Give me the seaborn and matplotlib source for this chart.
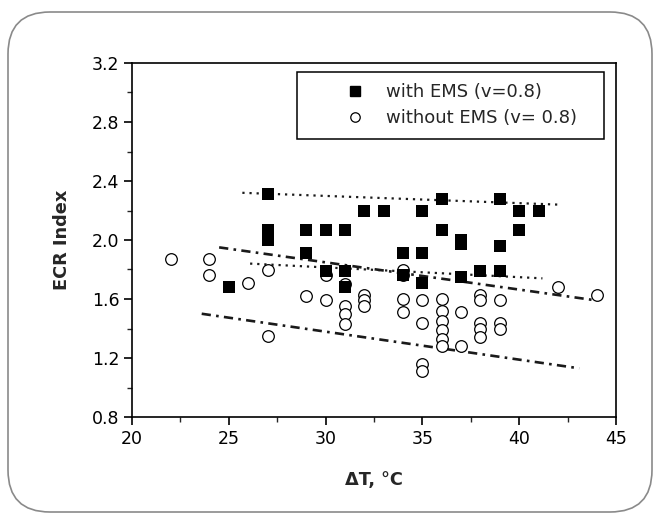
import numpy as np
import pandas as pd
import matplotlib
matplotlib.use("Agg")
import matplotlib.pyplot as plt
import seaborn as sns
from matplotlib.patches import FancyBboxPatch, Rectangle
from matplotlib.transforms import IdentityTransform
from matplotlib.ticker import MultipleLocator
from matplotlib.lines import Line2D

# ---- data ----
with_x = [25, 27, 27, 27, 29, 29, 30, 30, 31, 31, 31, 32, 33, 34, 34,
          35, 35, 35, 36, 36, 37, 37, 37, 38, 39, 39, 39, 40, 40, 41]
with_y = [1.68, 2.31, 2.07, 2.00, 2.07, 1.91, 2.07, 1.79, 2.07, 1.79, 1.68, 2.20, 2.20, 1.91, 1.76,
          2.20, 1.91, 1.71, 2.28, 2.07, 2.00, 1.97, 1.75, 1.79, 2.28, 1.96, 1.79, 2.20, 2.07, 2.20]

without_x = [22, 24, 24, 26, 27, 27, 29, 30, 30, 31, 31, 31, 31, 32, 32, 32,
             34, 34, 34, 34, 35, 35, 35, 35, 36, 36, 36, 36, 36, 36, 37, 37,
             38, 38, 38, 38, 38, 39, 39, 39, 42, 44]
without_y = [1.87, 1.87, 1.76, 1.71, 1.80, 1.35, 1.62, 1.76, 1.59, 1.70, 1.55, 1.50, 1.43, 1.63, 1.59, 1.55,
             1.80, 1.76, 1.60, 1.51, 1.59, 1.44, 1.16, 1.11, 1.60, 1.52, 1.45, 1.39, 1.33, 1.28, 1.51, 1.28,
             1.63, 1.59, 1.44, 1.40, 1.34, 1.59, 1.44, 1.40, 1.68, 1.63]

# trend / bound lines (end points)
with_upper_x = [25.7, 42.0]
with_upper_y = [2.32, 2.24]
with_lower_x = [26.1, 41.2]
with_lower_y = [1.84, 1.74]
without_upper_x = [24.5, 44.0]
without_upper_y = [1.95, 1.59]
without_lower_x = [23.6, 43.1]
without_lower_y = [1.50, 1.13]

labels = ["with EMS (v=0.8)", "without EMS (v= 0.8)"]
x_ticks = [20, 25, 30, 35, 40, 45]
y_ticks = [0.8, 1.2, 1.6, 2.0, 2.4, 2.8, 3.2]

# ---- style ----
sns.set_style("ticks")
plt.rcParams["font.family"] = ["DejaVu Sans"]

W, H = 660, 516
fig = plt.figure(figsize=(W / 100, H / 100), dpi=100)
fig.patch.set_facecolor("white")
ax = fig.add_axes([132 / W, 1 - 417 / H, (616 - 132) / W, (417 - 63) / H])

# rounded outer frame
frame = FancyBboxPatch((8, 4), 644, 500, boxstyle="round,pad=0,rounding_size=42",
                       transform=IdentityTransform(), fill=False,
                       edgecolor="#8a8a8a", linewidth=1.2)
fig.patches.append(frame)

df_with = pd.DataFrame({"x": with_x, "y": with_y})
df_without = pd.DataFrame({"x": without_x, "y": without_y})

sns.scatterplot(data=df_without, x="x", y="y", ax=ax, marker="o", s=70,
                facecolor="white", edgecolor="black", linewidth=0.9, zorder=3)
sns.scatterplot(data=df_with, x="x", y="y", ax=ax, marker="s", s=80,
                color="black", edgecolor="black", linewidth=0, zorder=4)

dot = (0, (1, 2.2))
dashdot = (0, (3.5, 2, 1, 2))
for lx, ly, ls, lw in [(with_upper_x, with_upper_y, dot, 1.6),
                       (with_lower_x, with_lower_y, dot, 1.6),
                       (without_upper_x, without_upper_y, dashdot, 1.9),
                       (without_lower_x, without_lower_y, dashdot, 1.9)]:
    sns.lineplot(x=lx, y=ly, ax=ax, color="#1a1a1a", linewidth=lw,
                 linestyle=ls, zorder=2)

ax.set_xlim(20, 45)
ax.set_ylim(0.8, 3.2)
ax.set_xticks(x_ticks)
ax.set_yticks(y_ticks)
ax.set_xticklabels([str(t) for t in x_ticks])
ax.set_yticklabels([f"{t:.1f}" for t in y_ticks])
ax.xaxis.set_minor_locator(MultipleLocator(2.5))
ax.yaxis.set_minor_locator(MultipleLocator(0.2))
ax.tick_params(axis="both", which="major", direction="out", length=6, width=1.2,
               labelsize=12.5, colors="black", pad=3)
ax.tick_params(axis="both", which="minor", direction="out", length=3.5, width=1.0)
ax.tick_params(top=False, right=False, which="both")
for sp in ax.spines.values():
    sp.set_visible(True)
    sp.set_linewidth(1.2)
    sp.set_color("black")

ax.set_xlabel("ΔT, °C", fontsize=12.8, fontweight="bold", labelpad=17)
ax.set_ylabel("ECR Index", fontsize=12.8, fontweight="bold", labelpad=15)

# legend box (frame drawn separately to match the wide padded box)
bx0, bx1, by0, by1 = 297, 604, 72, 139
ax.add_patch(Rectangle(((bx0 - 132) / 484, (417 - by1) / 354),
                       (bx1 - bx0) / 484, (by1 - by0) / 354,
                       transform=ax.transAxes, facecolor="white",
                       edgecolor="black", linewidth=1.1, zorder=5))

handles = [Line2D([], [], marker="s", linestyle="none", color="black", markersize=7),
           Line2D([], [], marker="o", linestyle="none", markerfacecolor="white",
                  markeredgecolor="black", markersize=6.8, markeredgewidth=0.9)]
leg = ax.legend(handles, labels, loc="upper left",
                bbox_to_anchor=((332 - 132) / 484, (417 - 74) / 354),
                borderaxespad=0, frameon=False, fontsize=13,
                handlelength=1.6, handletextpad=0.9, borderpad=0.5,
                labelspacing=0.45)
leg.set_zorder(6)

fig.savefig("out.png", dpi=100, facecolor="white")
